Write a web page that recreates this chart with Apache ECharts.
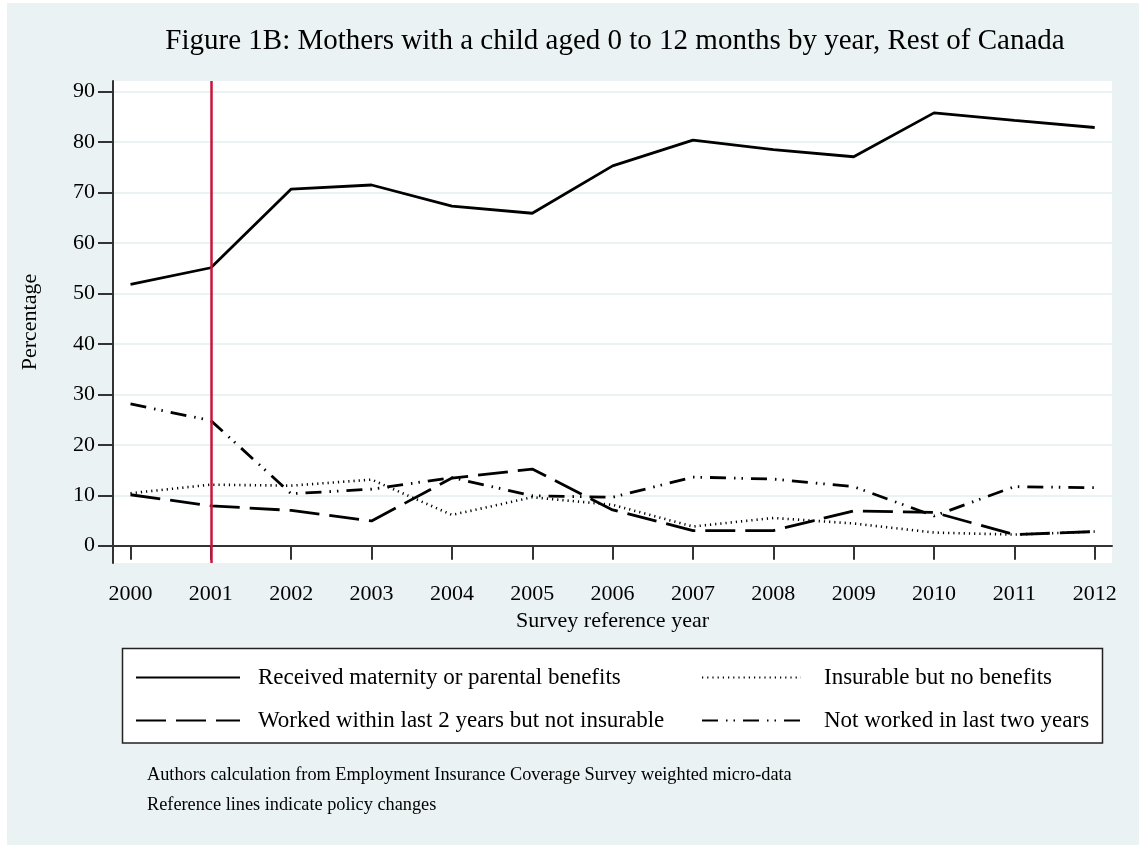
<!DOCTYPE html>
<html>
<head>
<meta charset="utf-8">
<script src="https://cdn.jsdelivr.net/npm/echarts@6/dist/echarts.min.js"></script>
<style>
  html, body { margin: 0; padding: 0; background: #fff; }
  #bg { position: absolute; left: 7px; top: 3px; width: 1132px; height: 842px; background: #eaf2f3; }
  #chart { position: absolute; left: 0; top: 0; width: 1139px; height: 845px; }
</style>
</head>
<body>
<div id="bg"></div>
<div id="chart"></div>
<script>
var years = [2000, 2001, 2002, 2003, 2004, 2005, 2006, 2007, 2008, 2009, 2010, 2011, 2012];
var yTicks = [0, 10, 20, 30, 40, 50, 60, 70, 80, 90];
var received = [51.8, 55.1, 70.7, 71.5, 67.3, 65.9, 75.3, 80.4, 78.5, 77.1, 85.8, 84.3, 82.9];
var insurable = [10.4, 12.1, 11.9, 13.1, 6.1, 9.6, 8.1, 3.8, 5.5, 4.4, 2.6, 2.2, 2.8];
var worked = [10.1, 7.9, 7.0, 4.9, 13.4, 15.2, 7.1, 3.0, 3.0, 6.9, 6.6, 2.2, 2.8];
var notWorked = [28.1, 24.8, 10.3, 11.2, 13.5, 9.9, 9.6, 13.6, 13.2, 11.7, 5.9, 11.7, 11.5];
var policyYears = [2001];

var names = [
    'Received maternity or parental benefits',
    'Insurable but no benefits',
    'Worked within last 2 years but not insurable',
    'Not worked in last two years'
];

function pairs(vals) {
    return years.map(function (y, i) { return [y, vals[i]]; });
}

var font = 'Liberation Serif';
var myChart = echarts.init(document.getElementById('chart'));

function lineSeries(name, vals, type, width) {
    return {
        name: name,
        type: 'line',
        data: pairs(vals),
        symbol: 'none',
        showSymbol: false,
        lineStyle: { color: '#000', width: width, type: type, cap: 'butt' },
        itemStyle: { color: '#000' },
        emphasis: { disabled: true }
    };
}

var series = [
    lineSeries(names[0], received, 'solid', 2.8),
    lineSeries(names[1], insurable, [1.2, 4], 2.6),
    lineSeries(names[2], worked, [30, 10], 2.8),
    lineSeries(names[3], notWorked, [16, 8, 1.5, 6, 1.5, 8], 2.8)
];
// vertical reference line for the policy change
series[0].markLine = {
    silent: true,
    symbol: ['none', 'none'],
    label: { show: false },
    lineStyle: { color: '#c8143c', width: 2.5, type: 'solid' },
    data: policyYears.map(function (y) { return { xAxis: y }; })
};

var legendText = { color: '#000', fontFamily: font, fontSize: 23, lineHeight: 20 };

option = {
    animation: false,
    backgroundColor: 'transparent',
    title: [{
        text: 'Figure 1B: Mothers with a child aged 0 to 12 months by year, Rest of Canada',
        left: 610, textAlign: 'center', top: 22,
        textStyle: { color: '#000', fontFamily: font, fontSize: 29, fontWeight: 'normal' }
    }, {
        text: 'Authors calculation from Employment Insurance Coverage Survey weighted micro-data\nReference lines indicate policy changes',
        left: 147, top: 760, padding: 0,
        textStyle: { color: '#000', fontFamily: font, fontSize: 18.3, fontWeight: 'normal', lineHeight: 30 }
    }],
    grid: {
        left: 113, right: 27, top: 81, bottom: 282,
        show: true, backgroundColor: '#fff', borderWidth: 0
    },
    graphic: [{
        type: 'rect', z: 0,
        shape: { x: 122.5, y: 648.5, width: 980, height: 94.5 },
        style: { fill: '#fff', stroke: '#222', lineWidth: 1.5 }
    }],
    legend: [{
        data: [names[0], names[2]],
        orient: 'vertical', left: 135, top: 666, padding: 0,
        itemWidth: 104, itemHeight: 20, itemGap: 20,
        selectedMode: false,
        itemStyle: { opacity: 0 },
        textStyle: Object.assign({ padding: [0, 0, 0, 13] }, legendText)
    }, {
        data: [names[1], names[3]],
        orient: 'vertical', left: 701, top: 666, padding: 0,
        itemWidth: 99, itemHeight: 20, itemGap: 20,
        selectedMode: false,
        itemStyle: { opacity: 0 },
        textStyle: Object.assign({ padding: [0, 0, 0, 18] }, legendText)
    }],
    xAxis: {
        type: 'value',
        min: 1999.782, max: 2012.215,
        name: 'Survey reference year',
        nameLocation: 'middle', nameGap: 46,
        nameTextStyle: { color: '#000', fontFamily: font, fontSize: 22 },
        axisLine: { show: true, lineStyle: { color: '#333', width: 2 } },
        axisTick: { show: true, length: 14, customValues: years, lineStyle: { color: '#333', width: 2 } },
        axisLabel: {
            customValues: years, margin: 20, color: '#000', fontFamily: font, fontSize: 22,
            formatter: function (v) { return String(v); }
        },
        splitLine: { show: false }
    },
    yAxis: {
        type: 'value',
        min: -3.43, max: 92.12,
        name: 'Percentage',
        nameLocation: 'middle', nameGap: 72, nameRotate: 90,
        nameTextStyle: { color: '#000', fontFamily: font, fontSize: 22 },
        axisLine: { show: true, lineStyle: { color: '#333', width: 2 } },
        axisTick: { show: true, length: 15, customValues: yTicks, lineStyle: { color: '#333', width: 2 } },
        axisLabel: { customValues: yTicks, margin: 18, color: '#000', fontFamily: font, fontSize: 22 },
        splitLine: { show: true, lineStyle: { color: '#eaf2f3', width: 2 } }
    },
    series: series
};
myChart.setOption(option);
</script>
</body>
</html>
